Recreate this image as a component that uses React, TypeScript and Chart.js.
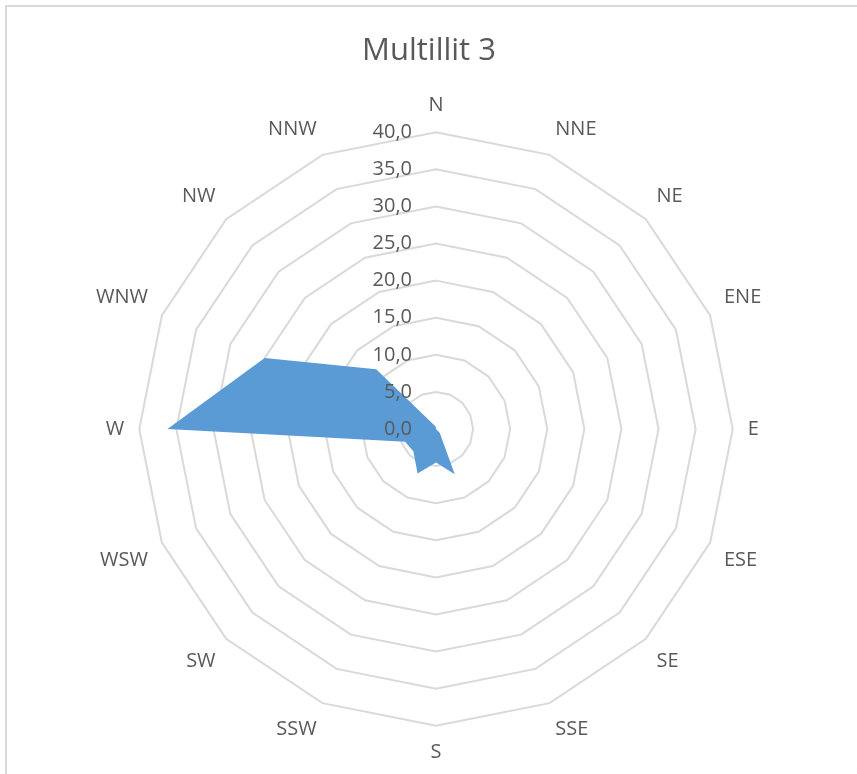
import React, { useEffect, useRef } from "react";
import { Chart, registerables } from "chart.js";

Chart.register(...registerables);

const directions = ["N", "NNE", "NE", "ENE", "E", "ESE", "SE", "SSE", "S", "SSW", "SW", "WSW", "W", "WNW", "NW", "NNW"];
const frequencies = [0.2, 0, 0, 0, 0, 0, 0.7, 6.6, 4.5, 6.5, 4.3, 4.5, 36.2, 25.0, 11.4, 0.5];
const tickValues = [0, 5, 10, 15, 20, 25, 30, 35, 40];
const chartTitle = "Multillit 3";

const fmt = (v: number) => v.toFixed(1).replace(".", ",");

const textColor = "#595959";
const gridColor = "#D9D9D9";
const fontFamily = "'Open Sans', 'Noto Sans', sans-serif";

const borderPlugin = {
  id: "outerBorder",
  beforeDraw(chart: any) {
    const ctx = chart.ctx;
    ctx.save();
    ctx.fillStyle = "#FFFFFF";
    ctx.fillRect(0, 0, chart.width, chart.height);
    ctx.strokeStyle = gridColor;
    ctx.lineWidth = 2;
    ctx.strokeRect(6, 6, chart.width + 20, chart.height + 20);
    ctx.restore();
  },
};

const tickLabelPlugin = {
  id: "tickLabels",
  afterDatasetsDraw(chart: any) {
    const scale = chart.scales.r;
    const ctx = chart.ctx;
    ctx.save();
    ctx.font = `20px ${fontFamily}`;
    ctx.fillStyle = textColor;
    ctx.textAlign = "right";
    ctx.textBaseline = "middle";
    tickValues.forEach((v) => {
      const d = scale.getDistanceFromCenterForValue(v);
      ctx.fillText(fmt(v), scale.xCenter - 24, scale.yCenter - d);
    });
    ctx.restore();
  },
};

export default function App() {
  const ref = useRef<HTMLCanvasElement | null>(null);
  useEffect(() => {
    if (!ref.current) return;
    const chart = new Chart(ref.current, {
      type: "radar",
      data: {
        labels: directions,
        datasets: [
          {
            label: chartTitle,
            data: frequencies,
            fill: true,
            backgroundColor: "#5B9BD5",
            borderColor: "#5B9BD5",
            borderWidth: 0,
            pointRadius: 0,
            pointHoverRadius: 0,
          },
        ],
      },
      options: {
        animation: false,
        responsive: false,
        devicePixelRatio: 1,
        layout: { padding: { left: 89, right: 88, top: 0, bottom: 6 } },
        plugins: {
          legend: { display: false },
          tooltip: { enabled: false },
          title: {
            display: true,
            text: chartTitle,
            color: textColor,
            font: { family: fontFamily, size: 31, weight: "normal" },
            padding: { top: 33, bottom: 20 },
          },
        },
        scales: {
          r: {
            min: 0,
            max: 40,
            ticks: { stepSize: 5, display: false, callback: (v: any) => fmt(Number(v)) },
            grid: { color: gridColor, lineWidth: 2, circular: false },
            angleLines: { display: false },
            pointLabels: {
              color: textColor,
              font: { family: fontFamily, size: 20 },
              padding: 15,
            },
          },
        },
      },
      plugins: [borderPlugin, tickLabelPlugin],
    });
    return () => chart.destroy();
  }, []);
  return (
    <div style={{ position: "fixed", left: 0, top: 0, width: 857, height: 774 }}>
      <canvas ref={ref} width={857} height={774} style={{ display: "block" }} />
    </div>
  );
}
